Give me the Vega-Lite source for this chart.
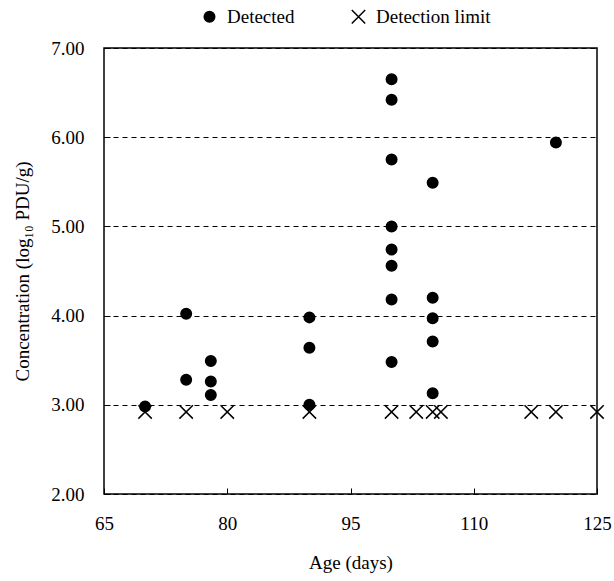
{
  "$schema": "https://vega.github.io/schema/vega-lite/v6.json",
  "autosize": "none",
  "width": 493,
  "height": 446,
  "padding": {"left": 104, "top": 48, "right": 17, "bottom": 87},
  "background": "white",
  "config": {
    "font": "Liberation Serif",
    "view": {"stroke": "black", "strokeWidth": 1.5},
    "axis": {"labelFont": "Liberation Serif", "titleFont": "Liberation Serif", "labelColor": "black", "titleColor": "black", "titleFontWeight": "normal", "labelFontSize": 19, "titleFontSize": 19, "domainColor": "black", "tickColor": "black"},
    "legend": {"labelFont": "Liberation Serif", "labelFontSize": 19, "labelColor": "black"}
  },
  "data": {
    "values": [
      {"age": 70, "conc": 2.92, "type": "Detection limit"},
      {"age": 75, "conc": 2.92, "type": "Detection limit"},
      {"age": 80, "conc": 2.92, "type": "Detection limit"},
      {"age": 90, "conc": 2.92, "type": "Detection limit"},
      {"age": 100, "conc": 2.92, "type": "Detection limit"},
      {"age": 103, "conc": 2.92, "type": "Detection limit"},
      {"age": 105, "conc": 2.92, "type": "Detection limit"},
      {"age": 106, "conc": 2.92, "type": "Detection limit"},
      {"age": 117, "conc": 2.92, "type": "Detection limit"},
      {"age": 120, "conc": 2.92, "type": "Detection limit"},
      {"age": 125, "conc": 2.92, "type": "Detection limit"},
      {"age": 70, "conc": 2.98, "type": "Detected"},
      {"age": 75, "conc": 4.02, "type": "Detected"},
      {"age": 75, "conc": 3.28, "type": "Detected"},
      {"age": 78, "conc": 3.49, "type": "Detected"},
      {"age": 78, "conc": 3.26, "type": "Detected"},
      {"age": 78, "conc": 3.11, "type": "Detected"},
      {"age": 90, "conc": 3.98, "type": "Detected"},
      {"age": 90, "conc": 3.64, "type": "Detected"},
      {"age": 90, "conc": 3.0, "type": "Detected"},
      {"age": 100, "conc": 6.65, "type": "Detected"},
      {"age": 100, "conc": 6.42, "type": "Detected"},
      {"age": 100, "conc": 5.75, "type": "Detected"},
      {"age": 100, "conc": 5.0, "type": "Detected"},
      {"age": 100, "conc": 4.74, "type": "Detected"},
      {"age": 100, "conc": 4.56, "type": "Detected"},
      {"age": 100, "conc": 4.18, "type": "Detected"},
      {"age": 100, "conc": 3.48, "type": "Detected"},
      {"age": 105, "conc": 5.49, "type": "Detected"},
      {"age": 105, "conc": 4.2, "type": "Detected"},
      {"age": 105, "conc": 3.97, "type": "Detected"},
      {"age": 105, "conc": 3.71, "type": "Detected"},
      {"age": 105, "conc": 3.13, "type": "Detected"},
      {"age": 120, "conc": 5.94, "type": "Detected"}
    ]
  },
  "mark": {"type": "point", "filled": true, "stroke": "black", "strokeWidth": 1.5, "opacity": 1},
  "encoding": {
    "x": {
      "field": "age", "type": "quantitative",
      "scale": {"domain": [65, 125], "nice": false, "zero": false},
      "axis": {"title": "Age (days)", "values": [65, 80, 95, 110, 125], "grid": false, "domain": false, "ticks": true, "tickSize": -6, "labelPadding": 26, "titlePadding": 20, "labelFlush": false}
    },
    "y": {
      "field": "conc", "type": "quantitative",
      "scale": {"domain": [2, 7], "nice": false, "zero": false},
      "axis": {"title": "Concentration (log₁₀ PDU/g)", "values": [2, 3, 4, 5, 6, 7], "format": ".2f", "grid": true, "gridColor": "black", "gridDash": [5, 4], "gridWidth": 1, "gridOpacity": 1, "domain": false, "ticks": true, "tickSize": -6, "labelPadding": 26, "titlePadding": 18}
    },
    "shape": {
      "field": "type", "type": "nominal", "sort": ["Detected", "Detection limit"],
      "scale": {"domain": ["Detected", "Detection limit"], "range": ["circle", "M-1,-1L1,1M-1,1L1,-1"]},
      "legend": {"title": null, "orient": "none", "legendX": 96, "legendY": -41, "direction": "horizontal", "columns": 2, "columnPadding": 53, "labelOffset": 8}
    },
    "fill": {
      "field": "type", "type": "nominal",
      "scale": {"domain": ["Detected", "Detection limit"], "range": ["black", "transparent"]},
      "legend": {"title": null, "orient": "none", "legendX": 96, "legendY": -41, "direction": "horizontal", "columns": 2, "columnPadding": 53, "labelOffset": 8}
    },
    "size": {
      "field": "type", "type": "nominal",
      "scale": {"domain": ["Detected", "Detection limit"], "range": [110, 180]},
      "legend": {"title": null, "orient": "none", "legendX": 96, "legendY": -41, "direction": "horizontal", "columns": 2, "columnPadding": 53, "labelOffset": 8}
    }
  }
}
